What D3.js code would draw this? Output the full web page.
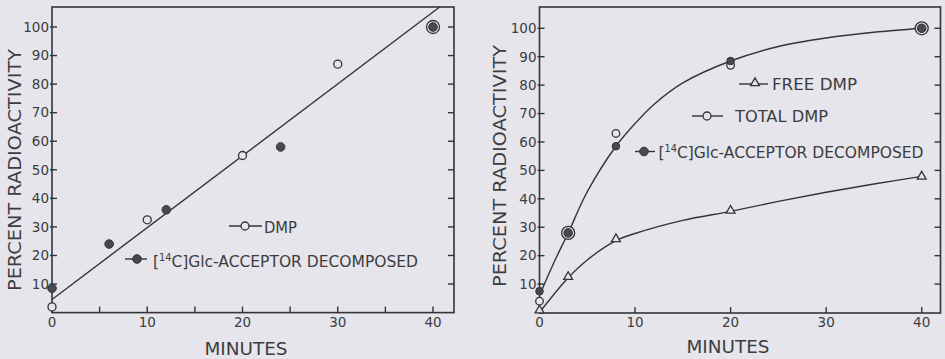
<!DOCTYPE html>
<html>
<head>
<meta charset="utf-8">
<script src="https://cdn.jsdelivr.net/npm/d3@7"></script>
<style>
  body { margin: 0; background: #e5e5eb; }
  svg { display: block; }
  text { font-family: "DejaVu Sans", sans-serif; fill: #3c3c40; }
</style>
</head>
<body>
<div id="chart"></div>
<script>
// left panel data
const leftDmpMin = [0, 10, 20, 30, 40];
const leftDmpPct = [2, 32.5, 55, 87, 100];
const leftAccMin = [0, 6, 12, 24, 40];
const leftAccPct = [8.5, 24, 36, 58, 100];
const leftFitMin = [0, 40.7];
const leftFitPct = [4.6, 107];

// right panel data
const rightMin = [0, 3, 8, 20, 40];
const freeDmpPct = [0.4, 12.2, 25.5, 35.5, 47.5];
const totalDmpPct = [4, 28, 63, 87, 100];
const rightAccPct = [7.5, 28, 58.5, 88.5, 100];
// hand-drawn curves
const upperCurveMin = [0, 1.5, 3, 5, 8, 10, 12, 15, 20, 25, 30, 35, 40];
const upperCurvePct = [6, 17.5, 28, 42.5, 58.5, 66.5, 73.3, 80.8, 88.5, 93.6, 96.6, 98.6, 100];
const lowerCurveMin = [0, 3, 5, 8, 10, 15, 20, 25, 30, 35, 40];
const lowerCurvePct = [0, 12.2, 18.5, 25.3, 27.8, 32.4, 35.6, 39.1, 42.3, 45.2, 47.9];

const yTicks = [10, 20, 30, 40, 50, 60, 70, 80, 90, 100];
const leftXTicks = [0, 5, 10, 15, 20, 25, 30, 35, 40];
const rightXTicks = [0, 10, 20, 30, 40];
const xLabels = [0, 10, 20, 30, 40];

const W = 945, H = 359;
const ink = "#333338";

const svg = d3.select("#chart").append("svg")
  .attr("width", W).attr("height", H);

const zip = (a, b) => a.map((v, i) => [v, b[i]]);

const drawPanel = (cfg) => {
  const { x, y, frame } = cfg;
  const g = svg.append("g");

  // frame
  g.append("rect")
    .attr("x", frame.x0).attr("y", frame.y0)
    .attr("width", frame.x1 - frame.x0).attr("height", frame.y1 - frame.y0)
    .attr("fill", "none").attr("stroke", ink).attr("stroke-width", 1.6);

  // y ticks left + right (inward)
  g.selectAll(".ytl").data(yTicks).join("line")
    .attr("x1", frame.x0 - 2).attr("x2", frame.x0 + 5)
    .attr("y1", (d) => y(d)).attr("y2", (d) => y(d))
    .attr("stroke", ink).attr("stroke-width", 1.4);
  g.selectAll(".ytr").data(yTicks).join("line")
    .attr("x1", frame.x1 - 6).attr("x2", frame.x1)
    .attr("y1", (d) => y(d)).attr("y2", (d) => y(d))
    .attr("stroke", ink).attr("stroke-width", 1.4);
  g.selectAll(".ylab").data(yTicks).join("text")
    .attr("x", frame.x0 - 3).attr("y", (d) => y(d) + 4.8)
    .attr("text-anchor", "end").attr("font-size", 13.5)
    .text((d) => d);

  // x ticks (upward from the axis)
  g.selectAll(".xt").data(cfg.xTicks).join("line")
    .attr("x1", (d) => x(d)).attr("x2", (d) => x(d))
    .attr("y1", frame.y1).attr("y2", frame.y1 - 6)
    .attr("stroke", ink).attr("stroke-width", 1.4);
  g.selectAll(".xlab").data(xLabels).join("text")
    .attr("x", (d) => x(d)).attr("y", frame.y1 + 14)
    .attr("text-anchor", "middle").attr("font-size", 13.5)
    .text((d) => d);

  // axis titles
  g.append("text")
    .attr("transform", `translate(${cfg.yTitleX},${cfg.yTitleY}) rotate(-90)`)
    .attr("text-anchor", "middle").attr("font-size", 17)
    .attr("textLength", 242).attr("lengthAdjust", "spacingAndGlyphs")
    .text("PERCENT RADIOACTIVITY");
  g.append("text")
    .attr("x", cfg.xTitleX).attr("y", cfg.xTitleY)
    .attr("text-anchor", "middle").attr("font-size", 17)
    .attr("textLength", 83).attr("lengthAdjust", "spacingAndGlyphs")
    .text("MINUTES");
  return g;
};

const openCircle = (g, pts, x, y, r) => {
  g.append("g").selectAll("circle").data(pts).join("circle")
    .attr("cx", (d) => x(d[0])).attr("cy", (d) => y(d[1]))
    .attr("r", r).attr("fill", "#e5e5eb")
    .attr("stroke", ink).attr("stroke-width", 1.3);
};
const filledCircle = (g, pts, x, y, r) => {
  g.append("g").selectAll("circle").data(pts).join("circle")
    .attr("cx", (d) => x(d[0])).attr("cy", (d) => y(d[1]))
    .attr("r", r).attr("fill", "#48484e")
    .attr("stroke", ink).attr("stroke-width", 1);
};
// where open and filled points coincide the original uses a ringed dot
const ringed = (g, a, b, x, y) => {
  const both = a.filter((p) => b.some((q) => q[0] === p[0] && q[1] === p[1]));
  g.append("g").selectAll("circle").data(both).join("circle")
    .attr("cx", (d) => x(d[0])).attr("cy", (d) => y(d[1]))
    .attr("r", 6.5).attr("fill", "#e5e5eb")
    .attr("stroke", ink).attr("stroke-width", 1.3);
  filledCircle(g, both, x, y, 4.3);
  return both;
};

const accLabel = (g, lx, ly, len) => {
  const t = g.append("text").attr("x", lx).attr("y", ly).attr("font-size", 16)
    .attr("textLength", len).attr("lengthAdjust", "spacingAndGlyphs");
  t.append("tspan").text("[");
  t.append("tspan").attr("font-size", 10).attr("dy", -6).text("14");
  t.append("tspan").attr("dy", 6).text("C]Glc-ACCEPTOR DECOMPOSED");
};

const legendLine = (g, x0, x1, yy) => {
  g.append("line").attr("x1", x0).attr("x2", x1).attr("y1", yy).attr("y2", yy)
    .attr("stroke", ink).attr("stroke-width", 1.4);
};

// ---------- left panel ----------
const xL = d3.scaleLinear().domain([0, 40]).range([52, 433]);
const yL = d3.scaleLinear().domain([0, 100]).range([312.6, 27]);
const gL = drawPanel({
  x: xL, y: yL, xTicks: leftXTicks,
  frame: { x0: 52, y0: 7, x1: 454, y1: 312.6 },
  yTitleX: 21, yTitleY: 170, xTitleX: 246, xTitleY: 355,
});

gL.append("path")
  .datum(zip(leftFitMin, leftFitPct))
  .attr("d", d3.line().x((d) => xL(d[0])).y((d) => yL(d[1])))
  .attr("fill", "none").attr("stroke", ink).attr("stroke-width", 1.4);

const lOpen = zip(leftDmpMin, leftDmpPct);
const lFill = zip(leftAccMin, leftAccPct);
const lBoth = ringed(gL, lOpen, lFill, xL, yL);
openCircle(gL, lOpen.filter((p) => !lBoth.includes(p)), xL, yL, 4);
filledCircle(gL, lFill.filter((p) => !lBoth.some((q) => q[0] === p[0] && q[1] === p[1])), xL, yL, 4.3);

// left legend
legendLine(gL, 229, 262, 226);
openCircle(gL, [[0, 0]], () => 245, () => 226, 4);
gL.append("text").attr("x", 264).attr("y", 233).attr("font-size", 16)
  .attr("textLength", 33).attr("lengthAdjust", "spacingAndGlyphs").text("DMP");
legendLine(gL, 125, 147, 259);
filledCircle(gL, [[0, 0]], () => 137, () => 259, 4.3);
accLabel(gL, 153, 266.5, 265);

// ---------- right panel ----------
const xR = d3.scaleLinear().domain([0, 40]).range([539.5, 921.7]);
const yR = d3.scaleLinear().domain([0, 100]).range([312.5, 28.3]);
const gR = drawPanel({
  x: xR, y: yR, xTicks: rightXTicks,
  frame: { x0: 539.5, y0: 7, x1: 940.5, y1: 313 },
  yTitleX: 506, yTitleY: 166, xTitleX: 728, xTitleY: 353,
});

const curve = d3.line().x((d) => xR(d[0])).y((d) => yR(d[1]))
  .curve(d3.curveCatmullRom.alpha(0.5));
gR.append("path").datum(zip(upperCurveMin, upperCurvePct)).attr("d", curve)
  .attr("fill", "none").attr("stroke", ink).attr("stroke-width", 1.4);
gR.append("path").datum(zip(lowerCurveMin, lowerCurvePct)).attr("d", curve)
  .attr("fill", "none").attr("stroke", ink).attr("stroke-width", 1.4);

const tri = d3.symbol().type(d3.symbolTriangle).size(34);
const triangles = (g, pts, x, y) => {
  g.append("g").selectAll("path").data(pts).join("path")
    .attr("transform", (d) => `translate(${x(d[0])},${y(d[1]) - 1})`)
    .attr("d", tri).attr("fill", "#e5e5eb")
    .attr("stroke", ink).attr("stroke-width", 1.3);
};

const rOpen = zip(rightMin, totalDmpPct);
const rFill = zip(rightMin, rightAccPct);
triangles(gR, zip(rightMin, freeDmpPct), xR, yR);
const rBoth = ringed(gR, rOpen, rFill, xR, yR);
openCircle(gR, rOpen.filter((p) => !rBoth.includes(p)), xR, yR, 3.8);
filledCircle(gR, rFill.filter((p) => !rBoth.some((q) => q[0] === p[0] && q[1] === p[1])), xR, yR, 3.8);

// right legend
legendLine(gR, 739, 768, 84);
triangles(gR, [[0, 0]], () => 755, () => 84);
gR.append("text").attr("x", 772).attr("y", 89.5).attr("font-size", 16)
  .attr("textLength", 85).attr("lengthAdjust", "spacingAndGlyphs").text("FREE DMP");
legendLine(gR, 692, 723, 116);
openCircle(gR, [[0, 0]], () => 707, () => 116, 4);
gR.append("text").attr("x", 735).attr("y", 122).attr("font-size", 16)
  .attr("textLength", 93).attr("lengthAdjust", "spacingAndGlyphs").text("TOTAL DMP");
legendLine(gR, 635, 655, 151.5);
filledCircle(gR, [[0, 0]], () => 644, () => 151.5, 4.3);
accLabel(gR, 658.5, 158.3, 265);
</script>
</body>
</html>
